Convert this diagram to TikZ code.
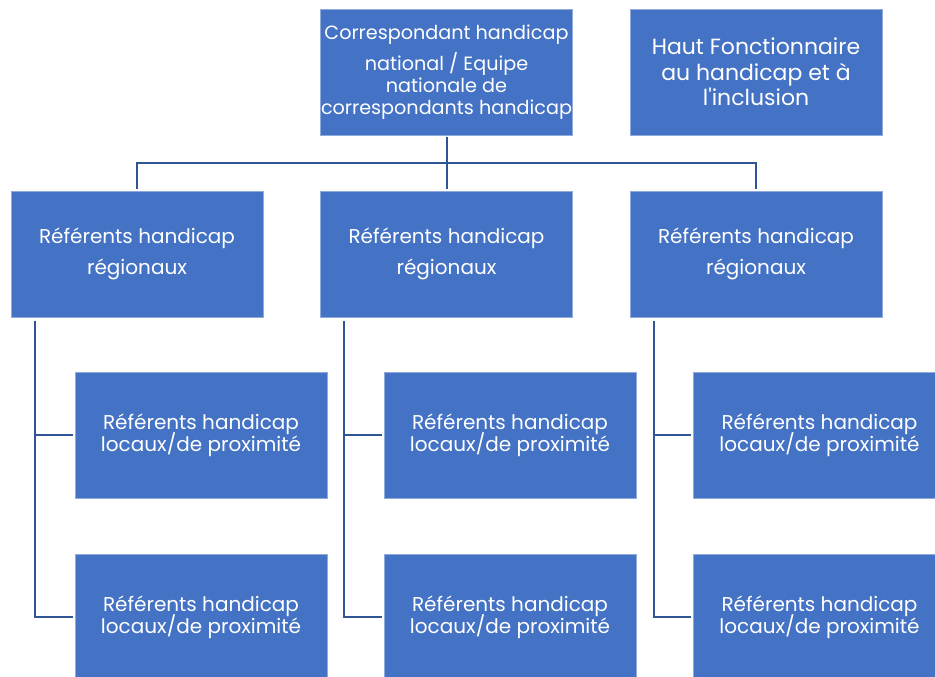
\documentclass[tikz,border=0pt]{standalone}
\usepackage{fontspec}
\setmainfont{Poppins}
\definecolor{boxblue}{HTML}{4472C4}
\definecolor{boxedge}{HTML}{8FAADC}
\definecolor{linkblue}{HTML}{2F5597}
\begin{document}
\begin{tikzpicture}[x=0.75pt,y=-0.75pt,
  box/.style={rectangle,fill=boxblue,draw=boxedge,line width=0.4pt,
    minimum width=189pt,minimum height=94.5pt,inner sep=0pt,
    text=white,align=center,font={\fontsize{15}{16.5}\selectfont\lineskiplimit=-20pt}},
  regbox/.style={box,font={\fontsize{15}{23}\selectfont\lineskiplimit=-20pt}},
  conn/.style={draw=linkblue,line width=1.5pt}]
\useasboundingbox (0,0) rectangle (935,676);
\clip (0,0) rectangle (935,676);
% top row
\node[box,font={\fontsize{14.4}{16.5}\selectfont\lineskiplimit=-20pt}] (top) at (446.5,72) {Correspondant handicap\\[6.5pt]national / Equipe\\nationale de\\correspondants handicap};
\node[box,font={\fontsize{16.5}{19}\selectfont\lineskiplimit=-20pt}] (haut) at (756,72) {Haut Fonctionnaire\\au handicap et à\\l\textquotesingle inclusion};
% regional
\node[regbox] (r1) at (137,254) {Référents handicap\\régionaux};
\node[regbox] (r2) at (446.5,254) {Référents handicap\\régionaux};
\node[regbox] (r3) at (756,254) {Référents handicap\\régionaux};
% locals
\node[box] (c11) at (201,435) {Référents handicap\\locaux/de proximité};
\node[box] (c12) at (201,617) {Référents handicap\\locaux/de proximité};
\node[box] (c21) at (510,435) {Référents handicap\\locaux/de proximité};
\node[box] (c22) at (510,617) {Référents handicap\\locaux/de proximité};
\node[box] (c31) at (819.5,435) {Référents handicap\\locaux/de proximité};
\node[box] (c32) at (819.5,617) {Référents handicap\\locaux/de proximité};
% connectors top
\draw[conn,shorten <=1.5pt,shorten >=1.5pt] (top.south) -- (r2.north);
\draw[conn,shorten <=1.5pt,shorten >=1.5pt] (r1.north) -- ++(0,-28) -| (r3.north);
% connectors to locals
\foreach \r/\a/\b in {r1/c11/c12,r2/c21/c22,r3/c31/c32}{
  \coordinate (v\r) at ([xshift=18pt,yshift=-2.5pt]\r.south west);
  \draw[conn,shorten >=1.5pt] (v\r) |- (\b.west);
  \draw[conn,shorten >=1.5pt] (v\r |- \a.west) -- (\a.west);
}
\end{tikzpicture}
\end{document}
